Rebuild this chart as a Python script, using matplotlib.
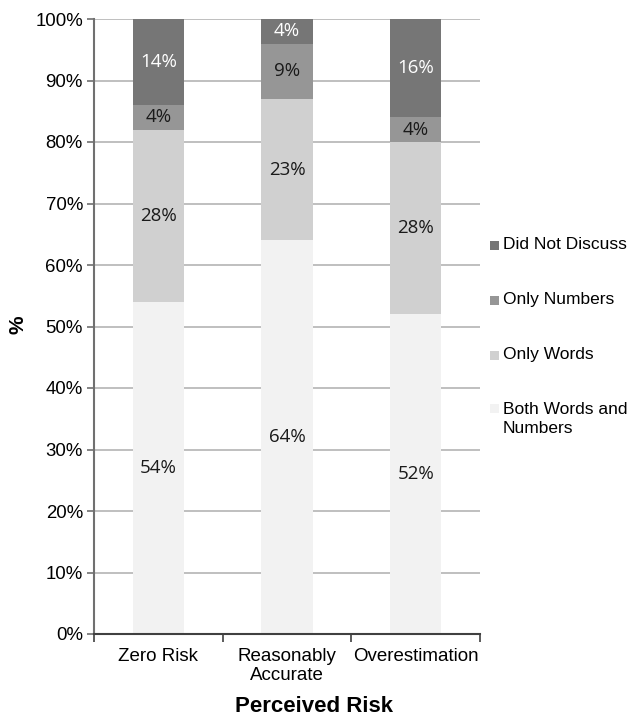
import matplotlib
matplotlib.use("Agg")
import matplotlib.pyplot as plt
from matplotlib.patches import Rectangle
import numpy as np

categories = ["Zero Risk", "Reasonably\nAccurate", "Overestimation"]
series_names = ["Both Words and\nNumbers", "Only Words", "Only Numbers", "Did Not Discuss"]
both_words_numbers = [54, 64, 52]
only_words = [28, 23, 28]
only_numbers = [4, 9, 4]
did_not_discuss = [14, 4, 16]
y_ticks = [0, 10, 20, 30, 40, 50, 60, 70, 80, 90, 100]

series = [both_words_numbers, only_words, only_numbers, did_not_discuss]
colors = ["#f2f2f2", "#d0d0d0", "#969696", "#767676"]
text_colors = ["#1a1a1a", "#1a1a1a", "#1a1a1a", "#ffffff"]

sans = ["Liberation Sans", "DejaVu Sans"]
label_font = ["Open Sans", "DejaVu Sans"]

fig = plt.figure(figsize=(6.28, 7.16), dpi=100)
ax = fig.add_axes([94 / 628, 82 / 716, 386 / 628, 615 / 716])

x = np.arange(len(categories))
bottom = np.zeros(len(categories))
for vals, col, tcol in zip(series, colors, text_colors):
    vals = np.array(vals, dtype=float)
    ax.bar(x, vals, bottom=bottom, width=0.4, color=col, zorder=2)
    for xi, b, v in zip(x, bottom, vals):
        ax.text(xi, b + v / 2, f"{int(v)}%", ha="center", va="center",
                fontsize=13.5, color=tcol, family=label_font, zorder=3)
    bottom += vals

ax.set_xlim(-0.5, len(categories) - 0.5)
ax.set_ylim(0, 100)
ax.set_yticks(y_ticks)
ax.set_yticklabels([f"{t}%" for t in y_ticks], family=sans, fontsize=13.4)
ax.yaxis.grid(True, color="#b4b4b4", linewidth=1.2, zorder=0)
ax.set_axisbelow(True)

# category labels sit between boundary ticks
ax.set_xticks(np.arange(-0.5, len(categories), 1.0))
ax.set_xticklabels([])
ax.set_xticks(x, minor=True)
ax.set_xticklabels(categories, minor=True, family=sans, fontsize=13.5,
                   linespacing=1.2)
ax.tick_params(axis="x", which="minor", length=0, pad=10)
ax.tick_params(axis="x", which="major", length=6, width=1.2, color="#404040")
ax.tick_params(axis="y", length=5, width=1.2, color="#707070", pad=3)

for s in ["top", "right"]:
    ax.spines[s].set_visible(False)
ax.spines["left"].set_color("#707070")
ax.spines["left"].set_linewidth(1.5)
ax.spines["bottom"].set_color("#404040")
ax.spines["bottom"].set_linewidth(1.5)

fig.text(314 / 628, 1 - 706 / 716, "Perceived Risk", family=sans, fontsize=16,
         fontweight="bold", ha="center", va="center")
fig.text(18 / 628, 1 - 325 / 716, "%", family=sans, fontsize=15,
         fontweight="bold", rotation=90, ha="center", va="center")

# legend drawn top to bottom
legend_rows = [(245, 3), (300, 2), (355, 1), (408, 0)]
for ypix, idx in legend_rows:
    fig.patches.append(Rectangle((490 / 628, 1 - (ypix + 4.5) / 716),
                                 9 / 628, 9 / 716, transform=fig.transFigure,
                                 facecolor=colors[idx], edgecolor="none"))
    if "\n" in series_names[idx]:
        fig.text(503 / 628, 1 - (ypix - 6) / 716, series_names[idx], family=sans,
                 fontsize=12.5, ha="left", va="top", linespacing=1.35)
    else:
        fig.text(503 / 628, 1 - ypix / 716, series_names[idx], family=sans,
                 fontsize=12.5, ha="left", va="center")

fig.savefig("out.png", dpi=100)
